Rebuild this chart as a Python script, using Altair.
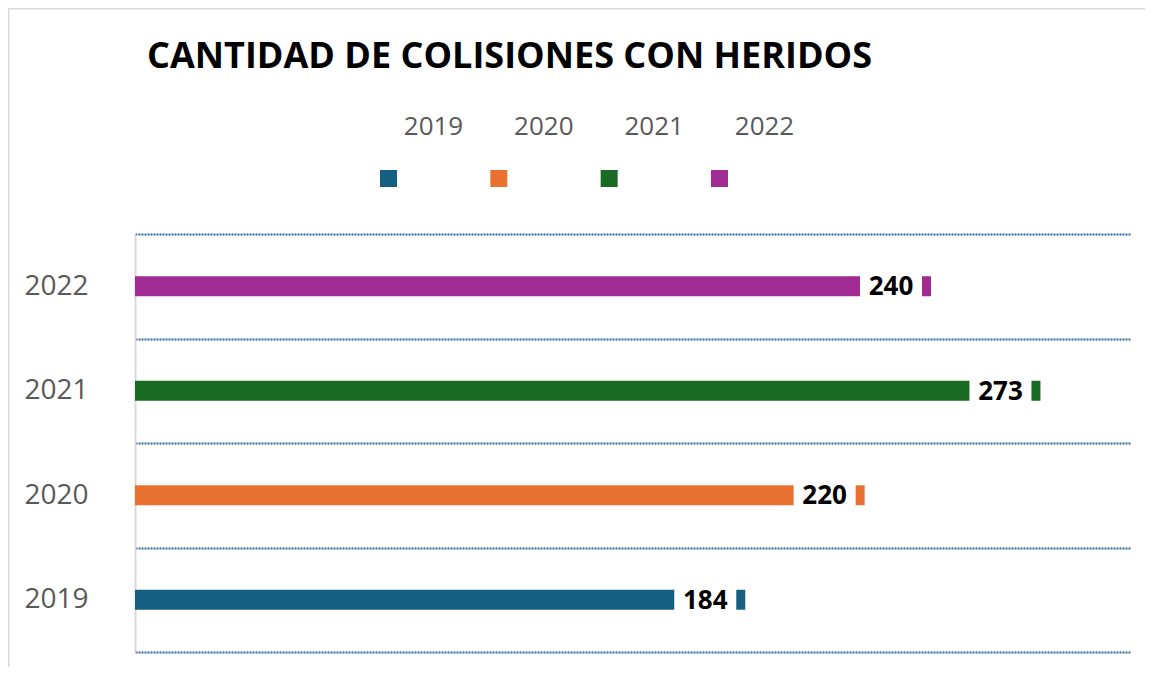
import altair as alt
import pandas as pd

title_text = "CANTIDAD DE COLISIONES CON HERIDOS"
years = ["2019", "2020", "2021", "2022"]
values = [184, 220, 273, 240]
colors = ["#156082", "#E97132", "#196B24", "#A02B93"]

df = pd.DataFrame({"year": years, "value": values})
df["start"] = 0

W, H = 995, 418
FONT = "Open Sans"
GRID = "#2A6A98"

color_scale = alt.Scale(domain=years, range=colors)
y_enc = alt.Y(
    "year:N",
    sort=years[::-1],
    scale=alt.Scale(paddingInner=0, paddingOuter=0),
    axis=alt.Axis(
        title=None,
        labelFont=FONT,
        labelFontSize=28,
        labelColor="#595959",
        labelPadding=47,
        ticks=False,
        domainColor="#d9d9d9",
        domainWidth=2,
        grid=True,
        tickBand="extent",
        gridColor=GRID,
        gridDash=[2, 1],
        gridWidth=2,
    ),
)
x_scale = alt.Scale(domain=[0, 300], nice=False)

base = alt.Chart(df)

bars = base.mark_bar(size=20, x2Offset=-71).encode(
    x=alt.X("start:Q", scale=x_scale, axis=None),
    x2="value:Q",
    y=y_enc,
    color=alt.Color("year:N", scale=color_scale, legend=None),
)
caps = base.mark_bar(size=20, xOffset=-9).encode(
    x=alt.X("value:Q", scale=x_scale, axis=None),
    x2="value:Q",
    y=y_enc,
    color=alt.Color("year:N", scale=color_scale, legend=None),
)
labels = base.mark_text(
    xOffset=-40, font=FONT, fontSize=26, fontWeight="bold", color="#000000",
    align="center", baseline="middle", dy=1,
).encode(
    x=alt.X("value:Q", scale=x_scale, axis=None),
    y=y_enc,
    text="value:Q",
)

leg_x = alt.X(
    "year:N",
    scale=alt.Scale(type="point", domain=years, range=[253.5, 584.5], padding=0),
    axis=None,
)
leg_sym = base.mark_point(shape="square", size=289, filled=True, opacity=1).encode(
    x=leg_x,
    y=alt.value(-55.5),
    color=alt.Color("year:N", scale=color_scale, legend=None),
)
leg_txt = base.mark_text(
    font=FONT, fontSize=26, color="#595959", align="center", baseline="alphabetic", dx=45,
).encode(
    x=leg_x,
    y=alt.value(-99),
    text="year:N",
)

one = alt.Chart(pd.DataFrame({"t": [title_text]}))
title = one.mark_text(
    font=FONT, fontSize=36, fontWeight="bold", color="#000000",
    align="left", baseline="alphabetic",
).encode(x=alt.value(12), y=alt.value(-166), text="t:N")
border_left = one.mark_rule(color="#d9d9d9", strokeWidth=1.5).encode(
    x=alt.value(-126.25), y=alt.value(-226), y2=alt.value(H + 20)
)
border_top = one.mark_rule(color="#d9d9d9", strokeWidth=1.5).encode(
    y=alt.value(-225.25), x=alt.value(-127), x2=alt.value(W + 20)
)

main = alt.layer(bars, caps, labels)
legend = alt.layer(leg_sym, leg_txt)

chart = (
    alt.layer(border_left, border_top, title, main, legend)
    .resolve_scale(x="independent")
    .properties(
        width=W,
        height=H,
        padding={"left": 127, "top": 226, "right": 15, "bottom": 15},
        autosize=alt.AutoSizeParams(type="none"),
        background="white",
    )
    .configure_view(stroke=None)
)

chart.save("out.html", embed_options={"renderer": "svg", "actions": False})
